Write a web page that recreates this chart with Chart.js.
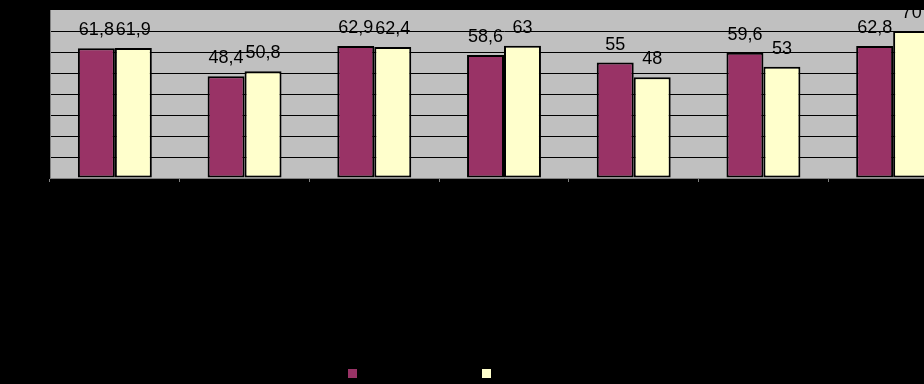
<!DOCTYPE html>
<html>
<head>
<meta charset="utf-8">
<script src="https://cdn.jsdelivr.net/npm/chart.js@4/dist/chart.umd.min.js"></script>
<style>
  html, body { margin: 0; padding: 0; background: #000; overflow: hidden; width: 924px; height: 384px; }
  #wrap { width: 960px; height: 384px; position: relative; }
</style>
</head>
<body>
<div id="wrap"><canvas id="c" width="960" height="384"></canvas></div>
<script>
// ---- data ----
const categories = ["1", "2", "3", "4", "5", "6", "7"];
const seriesNames = ["Ряд 1", "Ряд 2"];
const series1 = [61.8, 48.4, 62.9, 58.6, 55, 59.6, 62.8];
const series2 = [61.9, 50.8, 62.4, 63, 48, 53, 70];
const yTicks = [0, 10, 20, 30, 40, 50, 60, 70, 80];

const colors = ["#993366", "#FFFFCC"];

const fmt = v => String(v).replace('.', ',');

const plotBg = {
  id: 'plotBg',
  beforeDraw(chart) {
    const a = chart.chartArea, ctx = chart.ctx;
    ctx.save();
    ctx.fillStyle = '#C0C0C0';
    ctx.fillRect(a.left, a.top, a.right - a.left, a.bottom - a.top);
    ctx.restore();
  }
};

const dataLabels = {
  id: 'dataLabels',
  afterDatasetsDraw(chart) {
    const ctx = chart.ctx;
    ctx.save();
    ctx.font = '18px "Liberation Sans", Arial, sans-serif';
    ctx.fillStyle = '#000';
    ctx.textAlign = 'center';
    ctx.textBaseline = 'alphabetic';
    chart.data.datasets.forEach((ds, di) => {
      const meta = chart.getDatasetMeta(di);
      meta.data.forEach((bar, i) => {
        ctx.fillText(fmt(ds.data[i]), bar.x, bar.y - 13);
      });
    });
    ctx.restore();
  }
};

const squareLegend = {
  id: 'squareLegend',
  afterDraw(chart) {
    const ctx = chart.ctx;
    const cx = chart.width / 2;
    const xs = [cx - 132, cx + 2];
    ctx.save();
    ctx.font = '12px "Liberation Sans", Arial, sans-serif';
    ctx.textBaseline = 'middle';
    chart.data.datasets.forEach((ds, di) => {
      ctx.fillStyle = ds.backgroundColor;
      ctx.fillRect(xs[di], 369, 9, 9);
      ctx.fillStyle = '#000';
      ctx.fillText(ds.label, xs[di] + 15, 373.5);
    });
    ctx.restore();
  }
};

new Chart(document.getElementById('c'), {
  type: 'bar',
  data: {
    labels: categories,
    datasets: [
      { label: seriesNames[0], data: series1, backgroundColor: colors[0], borderColor: '#000', borderWidth: 2, borderSkipped: false },
      { label: seriesNames[1], data: series2, backgroundColor: colors[1], borderColor: '#000', borderWidth: 2, borderSkipped: false }
    ]
  },
  options: {
    responsive: false,
    animation: false,
    events: [],
    layout: { padding: { left: 50, right: 2, top: 10, bottom: 206 } },
    datasets: { bar: { barPercentage: 1.0, categoryPercentage: 0.57 } },
    plugins: { legend: { display: false }, tooltip: { enabled: false } },
    scales: {
      x: {
        afterFit: s => { s.height = 0; },
        ticks: { display: false },
        grid: { drawOnChartArea: false, drawTicks: true, tickLength: 4, color: '#808080', offset: true },
        border: { color: '#808080', width: 1 }
      },
      y: {
        min: 0, max: 80,
        afterFit: s => { s.width = 0; },
        afterBuildTicks: s => { s.ticks = yTicks.map(v => ({ value: v })); },
        ticks: { display: false },
        grid: {
          drawTicks: false,
          color: ctx => (ctx.tick && (ctx.tick.value === 80 || ctx.tick.value === 0)) ? 'rgba(0,0,0,0)' : '#000',
          lineWidth: 1
        },
        border: { color: '#808080', width: 1 }
      }
    }
  },
  plugins: [plotBg, dataLabels, squareLegend]
});
</script>
</body>
</html>
